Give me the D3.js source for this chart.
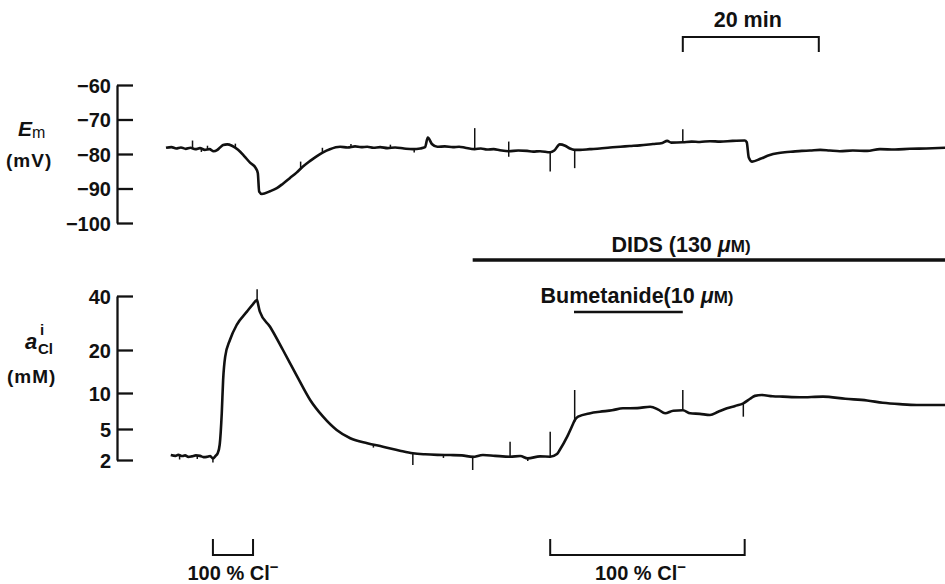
<!DOCTYPE html>
<html><head><meta charset="utf-8">
<script src="https://cdn.jsdelivr.net/npm/d3@7"></script>
<style>
body{margin:0;background:#fff}
svg text{font-family:"Liberation Sans",Arial,Helvetica,sans-serif;font-weight:bold;fill:#111}
</style></head><body>
<svg id="c" width="945" height="584"></svg>
<script>
// ---- data (time in min, Em in mV, aCl in mM) ----
const emTime = [0.0,0.8,1.5,2.2,2.9,3.6,4.3,5.0,5.7,6.4,7.0,7.5,7.9,8.4,9.0,9.7,10.6,11.5,12.4,13.2,13.5,13.7,14.1,15.3,16.3,17.2,18.2,19.2,20.1,21.2,22.2,23.1,24.1,25.6,26.7,27.8,28.7,29.6,30.5,31.5,32.6,33.7,35.0,36.3,37.4,38.1,38.5,39.1,39.9,41.0,42.2,43.1,44.0,45.4,46.3,47.2,48.2,49.1,50.4,51.8,53.1,54.0,55.0,56.5,57.1,57.9,58.7,59.4,60.1,60.9,62.3,63.8,65.3,66.8,68.2,69.7,71.6,73.0,73.7,74.3,76.0,77.3,78.5,80.0,81.5,83.3,85.1,85.4,85.7,86.2,87.4,88.8,89.9,91.0,92.2,93.5,94.7,96.2,97.6,99.1,101.0,103.1,105.0,107.2,109.4,111.8,114.6];
const emValue = [-78.2,-78.0,-78.4,-78.1,-78.5,-78.2,-78.6,-78.3,-78.8,-78.6,-79.2,-78.9,-78.2,-77.4,-77.2,-77.6,-78.8,-80.6,-82.6,-84.1,-85.5,-90.9,-91.6,-90.8,-89.9,-88.6,-87.0,-85.4,-83.7,-82.0,-80.6,-79.5,-78.6,-77.9,-78.1,-77.8,-78.0,-77.9,-78.2,-78.0,-78.3,-78.1,-78.4,-78.6,-78.4,-78.0,-75.2,-77.1,-77.9,-77.8,-78.0,-77.9,-78.2,-78.6,-78.4,-78.7,-78.6,-78.9,-79.2,-79.0,-79.1,-79.3,-79.2,-79.5,-79.0,-77.2,-77.6,-78.4,-78.8,-78.8,-78.6,-78.4,-78.1,-77.9,-77.7,-77.5,-77.1,-76.8,-76.2,-76.7,-76.6,-76.4,-76.5,-76.3,-76.4,-76.2,-76.1,-76.6,-81.0,-82.2,-81.4,-80.3,-79.8,-79.5,-79.3,-79.1,-79.0,-78.8,-79.0,-79.2,-79.0,-79.1,-78.6,-78.7,-78.5,-78.4,-78.2];
// spikes: [time, from, to]
const emSpikes = [[3.9,-78.3,-76.1],[5.2,-78.3,-79.4],[6.1,-78.7,-77.6],[10.2,-78.2,-77.0],[19.8,-84.4,-82.2],[23.0,-79.4,-78.2],[27.2,-78.0,-77.1],[33.0,-78.2,-77.3],[36.5,-78.6,-79.6],[45.4,-78.6,-72.5],[50.4,-80.8,-76.4],[56.5,-79.5,-85.1],[60.1,-78.8,-84.1],[76.0,-76.6,-72.8]];

const clTime = [0.7,1.4,1.8,2.4,2.8,3.3,3.8,4.4,5.0,5.5,6.0,6.5,6.9,7.3,7.6,7.9,8.2,8.4,8.7,9.4,10.4,11.9,12.8,13.4,13.5,13.8,15.3,17.2,19.3,21.2,23.1,25.1,27.1,29.6,31.9,34.4,36.3,38.1,39.9,41.8,43.5,45.1,46.6,48.4,50.6,52.1,53.2,55.0,56.5,57.5,57.9,59.0,59.9,60.1,60.6,62.4,63.8,65.6,67.2,69.3,71.2,72.4,73.4,74.6,76.0,77.1,78.5,80.0,81.2,82.5,83.7,84.9,85.9,86.6,87.6,89.2,90.7,93.2,96.6,99.9,103.1,105.4,107.9,110.4,114.6];
const clValue = [2.48,2.40,2.50,2.38,2.45,2.30,2.35,2.45,2.40,2.28,2.30,2.38,2.16,2.40,2.65,3.5,7.18,13.0,18.4,23.7,29.3,34.2,37.0,38.5,37.5,34.2,28.6,20.0,13.8,9.03,6.71,4.90,4.10,3.62,3.29,2.90,2.65,2.55,2.50,2.48,2.45,2.30,2.48,2.40,2.32,2.38,2.16,2.35,2.32,2.58,2.97,4.26,5.79,6.2,6.71,7.2,7.40,7.6,7.88,7.9,8.10,7.7,7.18,7.54,7.6,7.18,7.1,6.94,7.4,7.88,8.2,8.57,9.2,9.6,9.72,9.55,9.49,9.4,9.49,9.2,8.96,8.65,8.45,8.33,8.33];
const clSpikes = [[2.0,2.45,2.05],[4.6,2.42,2.1],[6.9,2.3,1.75],[13.4,38.5,42.5],[30.5,3.45,3.2],[36.3,2.65,1.52],[40.8,2.5,2.2],[45.1,2.4,1.03],[50.6,2.35,3.77],[53.2,2.2,1.9],[56.5,2.35,4.74],[60.1,6.0,10.7],[76.0,7.5,10.7],[84.9,8.57,6.71]];

const emTicks = [-60,-70,-80,-90,-100];
const clTicks = [2,5,10,20,40];

const scaleBar = [76,96], scaleLabel = "20 min";
const didsBar = [45.1,116], didsLabel = "DIDS (130 ";
const bumBar = [60,76], bumLabel = "Bumetanide(10 ";
const clBrackets = [[6.9,12.8],[56.5,85.1]];
const clBracketLabel = "100 % Cl";

// ---- scales ----
const svg = d3.select("#c");
const x = d3.scaleLinear().domain([0,115]).range([166,948]);
const yEm = d3.scaleLinear().domain([-100,-60]).range([223,85]);
const yCl = d3.scaleLinear().domain(clTicks).range([460,429,393,350,296]);
const ink = "#111";

// ---- axes ----
function styleAxis(g){
  g.attr("font-family",null).attr("font-size",null);
  g.selectAll("path.domain").attr("stroke",ink).attr("stroke-width",2.3);
  g.selectAll(".tick line").attr("stroke",ink).attr("stroke-width",2.3);
  g.selectAll(".tick text").attr("font-size",20).attr("fill",ink).attr("dy","0.36em");
}
svg.append("g").attr("transform","translate(117,0)")
  .call(d3.axisLeft(yEm).tickValues(emTicks).tickSize(-16).tickSizeOuter(0).tickPadding(6))
  .call(styleAxis);
svg.append("g").attr("transform","translate(117,0)")
  .call(d3.axisLeft(yCl).tickValues(clTicks).tickFormat(d3.format("d")).tickSize(-16).tickSizeOuter(0).tickPadding(6))
  .call(styleAxis);

// ---- axis titles ----
const t1 = svg.append("text").attr("x",18).attr("y",136).attr("font-size",21);
t1.append("tspan").attr("font-style","italic").text("E");
t1.append("tspan").attr("font-size",16).attr("font-weight","normal").attr("dy",2).text("m");
svg.append("text").attr("x",6).attr("y",167).attr("font-size",19).attr("letter-spacing",1).text("(mV)");

svg.append("text").attr("x",25).attr("y",349).attr("font-size",22).attr("font-style","italic").text("a");
svg.append("text").attr("x",40).attr("y",335).attr("font-size",15).attr("font-weight","normal").text("i");
svg.append("text").attr("x",38).attr("y",354).attr("font-size",15).text("Cl");
svg.append("text").attr("x",7).attr("y",383).attr("font-size",19).attr("letter-spacing",1).text("(mM)");

// ---- traces ----
const lineEm = d3.line().curve(d3.curveMonotoneX).x(d=>x(d[0])).y(d=>yEm(d[1]));
const lineCl = d3.line().curve(d3.curveMonotoneX).x(d=>x(d[0])).y(d=>yCl(d[1]));
svg.append("path").attr("d",lineEm(emTime.map((t,i)=>[t,emValue[i]])))
  .attr("fill","none").attr("stroke",ink).attr("stroke-width",2.6).attr("stroke-linejoin","round");
svg.append("path").attr("d",lineCl(clTime.map((t,i)=>[t,clValue[i]])))
  .attr("fill","none").attr("stroke",ink).attr("stroke-width",2.6).attr("stroke-linejoin","round");
svg.selectAll("line.se").data(emSpikes).enter().append("line")
  .attr("x1",d=>x(d[0])).attr("x2",d=>x(d[0])).attr("y1",d=>yEm(d[1])).attr("y2",d=>yEm(d[2]))
  .attr("stroke",ink).attr("stroke-width",1.5);
svg.selectAll("line.sc").data(clSpikes).enter().append("line")
  .attr("x1",d=>x(d[0])).attr("x2",d=>x(d[0])).attr("y1",d=>yCl(d[1])).attr("y2",d=>yCl(d[2]))
  .attr("stroke",ink).attr("stroke-width",1.5);

// ---- scale bar ----
svg.append("path").attr("d",`M${x(scaleBar[0])},52V37H${x(scaleBar[1])}V52`)
  .attr("fill","none").attr("stroke",ink).attr("stroke-width",2);
svg.append("text").attr("x",(x(scaleBar[0])+x(scaleBar[1]))/2-3).attr("y",27).attr("font-size",21.5)
  .attr("text-anchor","middle").text(scaleLabel);

// ---- drug bars ----
svg.append("line").attr("x1",x(didsBar[0])).attr("x2",x(didsBar[1])).attr("y1",260).attr("y2",260)
  .attr("stroke",ink).attr("stroke-width",3.5);
const td = svg.append("text").attr("x",681).attr("y",252).attr("font-size",21.5).attr("text-anchor","middle");
td.append("tspan").text(didsLabel);
td.append("tspan").attr("font-style","italic").text("μ");
td.append("tspan").attr("font-size",17).text("M)");

svg.append("line").attr("x1",x(bumBar[0])).attr("x2",x(bumBar[1])).attr("y1",312).attr("y2",312)
  .attr("stroke",ink).attr("stroke-width",2.6);
const tb = svg.append("text").attr("x",637).attr("y",303).attr("font-size",21.5).attr("text-anchor","middle");
tb.append("tspan").text(bumLabel);
tb.append("tspan").attr("font-style","italic").text("μ");
tb.append("tspan").attr("font-size",17).text("M)");

// ---- Cl brackets ----
clBrackets.forEach((b,i)=>{
  svg.append("path").attr("d",`M${x(b[0])},539V555H${x(b[1])}V539`)
    .attr("fill","none").attr("stroke",ink).attr("stroke-width",2);
  const cx = i===0 ? (x(b[0])+x(b[1]))/2 : (x(b[0])+x(b[1]))/2 - 7;
  const tt = svg.append("text").attr("x",cx).attr("y",580).attr("font-size",20).attr("text-anchor","middle");
  tt.append("tspan").text(clBracketLabel);
  tt.append("tspan").attr("font-size",15).attr("dy",-8).text("−");
});
</script>
</body></html>
